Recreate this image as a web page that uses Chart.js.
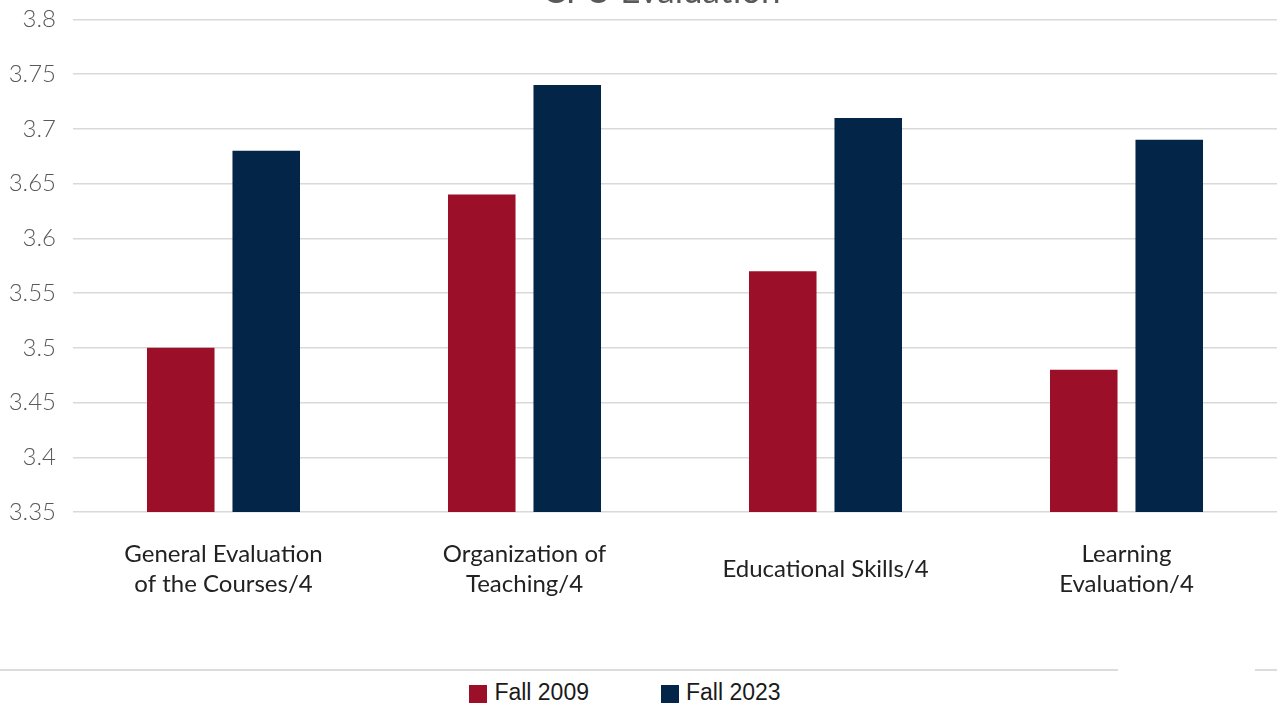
<!DOCTYPE html>
<html>
<head>
<meta charset="utf-8">
<title>CFU Evaluation</title>
<script src="https://cdn.jsdelivr.net/npm/chart.js@4"></script>
<style>
  html, body { margin: 0; padding: 0; background: #fff; overflow: hidden; }
  body { width: 1277px; height: 707px; position: relative; }
  #wrap { position: absolute; left: 0; top: -12px; width: 1323px; height: 612px; }
  #titulo { position: absolute; left: 0; top: -28px; width: 1323px; text-align: center; line-height: 1;
            font-family: Lato, sans-serif; font-size: 35px; color: #595959; }
  .rule { position: absolute; top: 669px; height: 2px; background: #dcdcdc; }
  #legend { position: absolute; top: 679px; left: 0; width: 1250px; display: flex; justify-content: center;
            font-family: "Liberation Sans", Arial, sans-serif; font-size: 23px; color: #1a1a1a; }
  #legend .item { display: flex; align-items: center; margin: 0 36px; }
  #legend .box { width: 18px; height: 18px; margin-right: 7px; margin-top: 3px; }
</style>
</head>
<body>
<div id="wrap"><canvas id="myChart"></canvas></div>
<div id="titulo">CFU Evaluation</div>
<div class="rule" style="left:0;width:1118px"></div>
<div class="rule" style="left:1255px;width:22px"></div>
<div id="legend"></div>
<script>
const categorias = [
  ["General Evaluation", "of the Courses/4"],
  ["Organization of", "Teaching/4"],
  "Educational Skills/4",
  ["Learning", "Evaluation/4"]
];
const fall2009 = [3.50, 3.64, 3.57, 3.48];
const fall2023 = [3.68, 3.74, 3.71, 3.69];
const tickMin = 3.35;
const tickMax = 3.8;
const tickStep = 0.05;

const series = [
  { label: "Fall 2009", data: fall2009, color: "#9b0f28" },
  { label: "Fall 2023", data: fall2023, color: "#022548" }
];

const config = {
  type: "bar",
  data: {
    labels: categorias,
    datasets: series.map(s => ({
      label: s.label,
      data: s.data,
      backgroundColor: s.color,
      categoryPercentage: 0.568,
      barPercentage: 0.79
    }))
  },
  options: {
    responsive: true,
    maintainAspectRatio: false,
    animation: false,
    layout: { padding: { top: 5, right: 46 } },
    plugins: {
      legend: { display: false },
      tooltip: { enabled: false }
    },
    scales: {
      y: {
        min: tickMin,
        max: tickMax,
        border: { display: false },
        grid: { color: "#d9d9d9", lineWidth: 1.5, drawTicks: false },
        ticks: {
          stepSize: tickStep,
          padding: 17,
          color: "#595959",
          font: { family: "Lato", size: 24, weight: 300 },
          callback: v => parseFloat(v.toFixed(2)).toString()
        },
        afterFit: s => { s.width = 73; }
      },
      x: {
        border: { display: false },
        grid: { display: false },
        ticks: {
          padding: 34,
          color: "#222",
          crossAlign: "center",
          maxRotation: 0,
          font: { family: "Lato", size: 24, lineHeight: 1.25 }
        },
        afterFit: s => { s.height = 88; }
      }
    }
  }
};

const myChart = new Chart(document.getElementById("myChart"), config);

// leyenda en HTML
const legend = document.getElementById("legend");
series.forEach(s => {
  legend.innerHTML += `<div class="item"><span class="box" style="background:${s.color}"></span>${s.label}</div>`;
});
</script>
</body>
</html>
